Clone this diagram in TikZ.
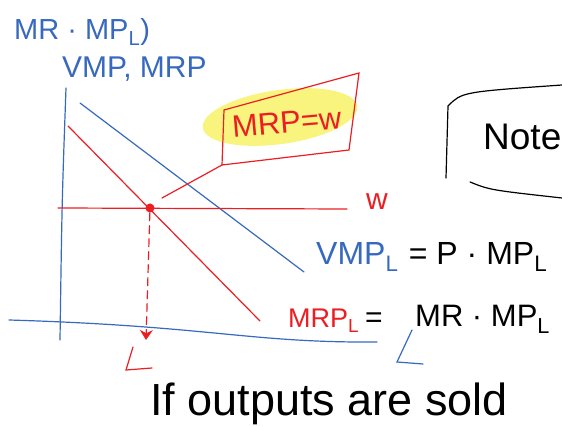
\documentclass[tikz,border=0pt]{standalone}
\usepackage{fontspec}
\setmainfont{Liberation Sans}
\usepackage{tikz}
\usetikzlibrary{arrows.meta,calc,positioning}
\definecolor{penblue}{RGB}{55,105,190}
\definecolor{penred}{RGB}{235,30,35}
\definecolor{hilite}{RGB}{245,240,70}
\newcommand{\fs}[1]{\fontsize{#1}{#1}\selectfont}

\begin{document}
\begin{tikzpicture}[x=1pt,y=-1pt,>={Stealth},
  bluepen/.style={penblue,line width=1.2pt,line cap=round},
  redpen/.style={penred,line width=1.2pt,line cap=round},
  blackpen/.style={black,line width=1.2pt,line cap=round},
  ink/.style={inner sep=0pt,anchor=base west}]
  \clip (0,0) rectangle (562,427);
  % axes
  \coordinate (ytop) at (66,88);
  \coordinate (ybot) at (60,340);
  \coordinate (xl) at (9,320);
  \coordinate (xr) at (377,342);
  \draw[bluepen] (ytop) .. controls (62,200) .. (ybot);
  \draw[bluepen] (xl) .. controls (210,326) and (250,343) .. (xr);
  \node[ink,penblue,font=\fs{29}] (ylab1) at (14,40) {MR · MP\textsubscript{L})};
  \node[ink,penblue,font=\fs{30}] (ylab2) at (62,78) {VMP, MRP};
  % demand curves and wage line
  \coordinate (vmptop) at (80,103);
  \coordinate (vmpbot) at (304,272);
  \coordinate (mrptop) at (68,126);
  \coordinate (mrpbot) at (260,321);
  \coordinate (wl) at (58,208);
  \coordinate (wr) at (347,209);
  \draw[bluepen] (vmptop) -- (vmpbot);
  \draw[redpen] (mrptop) -- (mrpbot);
  \draw[redpen] (wl) -- (wr);
  \node[ink,penred,font=\fs{30}] (wlab) at (366,210) {w};
  % equilibrium and employment level
  \node[circle,fill=penred,inner sep=0pt,minimum size=9pt] (eq) at (150,208) {};
  \coordinate (lstar) at (146,340);
  \draw[redpen,dashed,dash pattern=on 8pt off 5pt,-{Stealth[length=10pt,width=13pt]}] (eq) -- (lstar);
  \draw[redpen] (133,347) -- (126,370) -- (152,368);
  % MRP = w callout
  \fill[hilite,opacity=0.7] (280,117) ellipse[x radius=78,y radius=27,rotate=8];
  \coordinate (btl) at (224,110);
  \coordinate (btr) at (359,73);
  \coordinate (bbr) at (349,150);
  \coordinate (bbl) at (222,165);
  \draw[redpen] (bbl) -- (btl) -- (btr) -- (bbr) -- cycle;
  \node[ink,penred,font=\fs{31},rotate=5] (cond) at (233,138) {MRP=w};
  \coordinate (ptr) at (162,198);
  \draw[redpen] (ptr) -- (bbl);
  % note box
  \coordinate (ntl) at (448,106);
  \coordinate (nbl) at (446,178);
  \draw[blackpen] (nbl) -- (ntl) .. controls (462,92) .. (562,85);
  \draw[blackpen] (470,182) .. controls (490,190) .. (562,198);
  \node[ink,font=\fs{37}] (note) at (483,150) {Note};
  % formulas
  \node[ink,penblue,font=\fs{32}] (vmp) at (316,265) {VMP\textsubscript{L}};
  \node[ink,font=\fs{32},right=10pt of vmp.base east,anchor=base west] (vmpeq) {= P · MP\textsubscript{L}};
  \node[ink,penred,font=\fs{27}] (mrp) at (288,328) {MRP\textsubscript{L}};
  \node[ink,font=\fs{30}] (mrpeq) at (365,328) {=};
  \node[ink,font=\fs{31}] (mrpdef) at (415,327) {MR · MP\textsubscript{L}};
  \draw[bluepen] (412,330) -- (397,362) -- (423,364);
  \node[ink,font=\fs{45}] (sold) at (150,415) {If outputs are sold};
\end{tikzpicture}
\end{document}
